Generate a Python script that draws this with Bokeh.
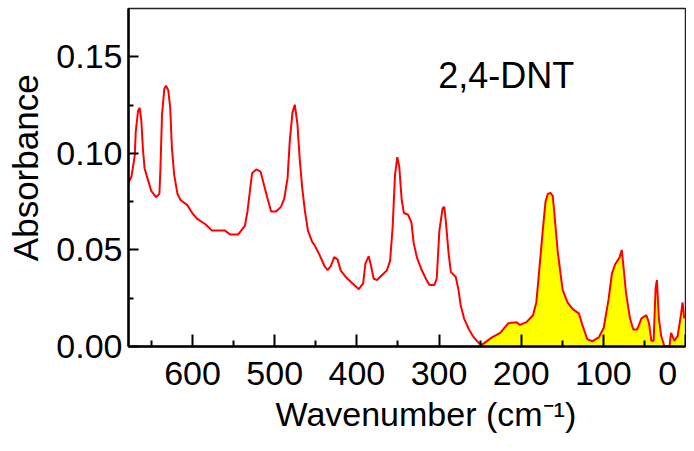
from bokeh.plotting import figure
from bokeh.models import Range1d, FixedTicker, Label
from bokeh.embed import file_html
from bokeh.resources import INLINE

# Spectrum of 2,4-DNT (wavenumber in cm-1, absorbance)
wavenumber = [678, 674.4, 670.4, 669.2, 666.4, 664.4, 662.4, 660.4, 658.4, 654.4,
              650.4, 644.4, 640.4, 639.2, 637.2, 634.4, 632.4, 629.6, 627.2, 625.2,
              622.4, 618.4, 614.4, 606.4, 600.4, 594.4, 584.4, 576.4, 560.4, 554.4,
              544.4, 536.4, 533.2, 530.4, 527.6, 522.4, 517.2, 513.2, 509.2, 504.4,
              498.4, 492.4, 488.4, 484.4, 481.6, 478.4, 475.6, 472.4, 469.6, 466.4,
              463.2, 459.6, 454.4, 451.6, 445.6, 439.6, 435.6, 431.6, 427.6, 423.6,
              419.6, 413.6, 405.6, 397.6, 392.4, 389.6, 385.6, 382.8, 379.6, 375.6,
              369.6, 363.6, 359.6, 356.4, 353.6, 350.8, 348.4, 345.6, 342.8, 337.6,
              333.6, 330.8, 326.8, 321.6, 315.6, 311.6, 305.6, 302.8, 299.6, 295.6,
              293.6, 291.6, 288.4, 285.6, 279.6, 276.4, 273.6, 269.6, 263.6, 257.6,
              251.6, 247.6, 235.6, 225.6, 215.6, 205.6, 201.6, 193.6, 185.6, 181.6,
              178.4, 173.6, 170.4, 167.6, 164.4, 161.6, 159.6, 155.6, 149.6, 143.6,
              137.6, 129.6, 125.6, 119.6, 113.6, 105.6, 99.6, 93.6, 89.6, 85.6,
              80.4, 77.6, 75.6, 72.4, 67.6, 63.6, 58.8, 53.6, 47.6, 44.4,
              41.6, 38.8, 36.4, 34.8, 32.4, 29.6, 25.6, 19.6, 17.6, 13.6,
              9.6, 5.6, 3.6, 1.6]
absorbance = [0.0847, 0.088, 0.0988, 0.111, 0.1219, 0.1236, 0.117, 0.102, 0.0922, 0.0864,
              0.0806, 0.0773, 0.079, 0.0914, 0.120, 0.1335, 0.135, 0.1327, 0.1236, 0.103,
              0.0889, 0.079, 0.0757, 0.0732, 0.0691, 0.0661, 0.0633, 0.060, 0.060, 0.058,
              0.058, 0.0624, 0.0699, 0.0798, 0.0897, 0.0917, 0.0905, 0.0839, 0.0773, 0.0699,
              0.0699, 0.0723, 0.0765, 0.0872, 0.107, 0.1211, 0.1252, 0.1153, 0.0971, 0.0815,
              0.0700, 0.0600, 0.0542, 0.0525, 0.0476, 0.0418, 0.0396, 0.0418, 0.0463, 0.0451,
              0.0393, 0.036, 0.0327, 0.0297, 0.0327, 0.043, 0.0468, 0.0418, 0.0352, 0.0344,
              0.0369, 0.0393, 0.0443, 0.0624, 0.0889, 0.098, 0.093, 0.0765, 0.0691, 0.0682,
              0.0641, 0.0534, 0.0459, 0.0401, 0.0347, 0.0319, 0.0319, 0.0352, 0.060, 0.0716,
              0.0723, 0.0641, 0.0484, 0.0385, 0.036, 0.0294, 0.0212, 0.0146, 0.0088, 0.0047,
              0.0017, 0.001, 0.0047, 0.0071, 0.0121, 0.0126, 0.0112, 0.0126, 0.0162, 0.0228,
              0.0377, 0.0608, 0.075, 0.079, 0.0795, 0.078, 0.069, 0.0493, 0.0294, 0.0228,
              0.0195, 0.017, 0.0112, 0.0038, 0.0027, 0.0047, 0.0096, 0.0245, 0.0377, 0.0426,
              0.046, 0.050, 0.0418, 0.0278, 0.0146, 0.0088, 0.0088, 0.0146, 0.0162, 0.0121,
              0.003, 0.003, 0.0302, 0.0344, 0.0146, 0.0054, 0.0, 0.0, 0.0071, 0.003,
              0.0054, 0.0162, 0.0228, 0.0146]

fill_start = 247.6  # shaded region (low-frequency band)
fill_wn = [w for w in wavenumber if w <= fill_start]
fill_ab = [a for w, a in zip(wavenumber, absorbance) if w <= fill_start]

x_ticks = [600, 500, 400, 300, 200, 100, 0]
x_minor = [650, 550, 450, 350, 250, 150, 50]
x_tick_labels = {0: "0\u00a0"}
y_ticks = [0.0, 0.05, 0.10, 0.15]
y_minor = [0.025, 0.075, 0.125]
y_tick_labels = {0.0: "0.00", 0.05: "0.05", 0.1: "0.10", 0.15: "0.15"}

FONT = "Liberation Sans"
NB = "\u00a0"

p = figure(width=686, height=435, output_backend="svg", toolbar_location=None,
           x_range=Range1d(678, 0), y_range=Range1d(0, 0.175),
           min_border_left=128, min_border_right=1, min_border_top=8,
           min_border_bottom=70)
p.grid.visible = False
p.outline_line_color = "#222222"
p.outline_line_width = 1.5
p.background_fill_color = "white"
p.border_fill_color = "white"

p.varea(x=fill_wn, y1=[0] * len(fill_wn), y2=fill_ab, fill_color="#FFFF00")
p.line(wavenumber, absorbance, line_color="#FF0000", line_width=2)

# x axis
xa = p.xaxis[0]
xa.ticker = FixedTicker(ticks=x_ticks, minor_ticks=x_minor)
xa.major_label_overrides = x_tick_labels
xa.major_label_text_font = FONT
xa.major_label_text_font_size = "34px"
xa.major_label_text_color = "black"
xa.major_label_standoff = 7
xa.axis_line_width = 2.5
xa.axis_line_color = "black"
xa.major_tick_in = 12
xa.major_tick_out = 0
xa.minor_tick_in = 6
xa.minor_tick_out = 0
xa.major_tick_line_width = 2
xa.minor_tick_line_width = 2
xa.major_tick_line_color = "black"
xa.minor_tick_line_color = "black"
xa.axis_label = NB * 4 + "Wavenumber (cm\u207b\u00b9)"
xa.axis_label_text_font = FONT
xa.axis_label_text_font_size = "34px"
xa.axis_label_text_font_style = "normal"
xa.axis_label_text_color = "black"
xa.axis_label_standoff = 0

# y axis
ya = p.yaxis[0]
ya.ticker = FixedTicker(ticks=y_ticks, minor_ticks=y_minor)
ya.major_label_overrides = y_tick_labels
ya.major_label_text_font = FONT
ya.major_label_text_font_size = "34px"
ya.major_label_text_color = "black"
ya.major_label_standoff = 6
ya.axis_line_width = 2.5
ya.axis_line_color = "black"
ya.major_tick_in = 10
ya.major_tick_out = 0
ya.minor_tick_in = 5
ya.minor_tick_out = 0
ya.major_tick_line_width = 2
ya.minor_tick_line_width = 2
ya.major_tick_line_color = "black"
ya.minor_tick_line_color = "black"
ya.axis_label = NB * 2 + "Absorbance"
ya.axis_label_text_font = FONT
ya.axis_label_text_font_size = "35px"
ya.axis_label_text_font_style = "normal"
ya.axis_label_text_color = "black"
ya.axis_label_standoff = 8

# compound name
p.add_layout(Label(x=301, y=0.1405, text="2,4-DNT",
                   text_font=FONT, text_font_size="36px", text_color="black",
                   text_align="left", text_baseline="alphabetic"))

open("out.html", "w").write(file_html(p, INLINE))
